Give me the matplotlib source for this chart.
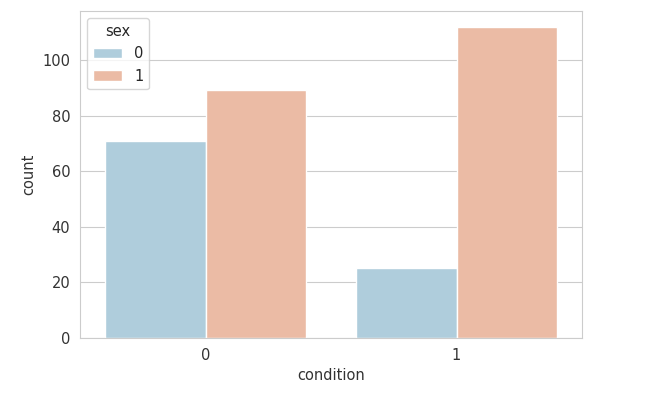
import numpy as np
import matplotlib
matplotlib.use('Agg')
import matplotlib.pyplot as plt
import pandas as pd
import seaborn as sns

conditions = ['0', '0', '1', '1']
sexes = ['0', '1', '0', '1']
counts = [71, 89, 25, 112]

df = pd.DataFrame({'condition': conditions, 'sex': sexes, 'count': counts})

sns.set_style('whitegrid')

fig = plt.figure(figsize=(6.64, 3.95), dpi=100)
ax = fig.add_axes([0.1205, 0.1443, 0.756, 0.828])

sns.barplot(data=df, x='condition', y='count', hue='sex', palette='RdBu_r',
            saturation=0.75, ax=ax)

ax.set_xlabel('condition', fontsize=10.5, color='#333333')
ax.set_ylabel('count', fontsize=10.5, color='#333333')
ax.tick_params(labelsize=10.5, colors='#333333')
leg = ax.legend(title='sex', loc='upper left', fontsize=10.5, title_fontsize=10.5)

fig.savefig('out.png', dpi=100)
